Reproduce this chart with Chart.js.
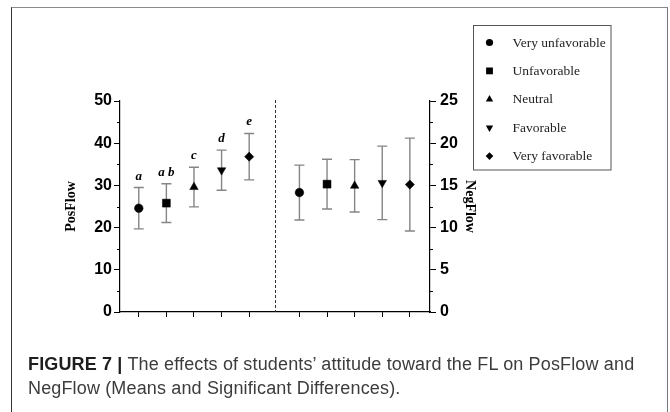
<!DOCTYPE html>
<html>
<head>
<meta charset="utf-8">
<script src="https://cdn.jsdelivr.net/npm/chart.js@4.4.1/dist/chart.umd.min.js"></script>
<style>
  html, body { margin: 0; padding: 0; background: #fff; }
  body { width: 670px; height: 412px; position: relative; overflow: hidden; }
  #frame {
    position: absolute; left: 11px; top: 7px; width: 657px; height: 430px;
    border-left: 1.5px solid #333; border-top: 1px solid #8a8a8a; border-right: 1px solid #777;
    box-sizing: border-box;
  }
  canvas { position: absolute; left: 0; top: 0; }
  #caption {
    position: absolute; left: 28px; top: 352px; width: 636px;
    font: 18px "Liberation Sans", Arial, sans-serif; letter-spacing: 0.15px;
    line-height: 24px; color: #3c3c3c; white-space: nowrap;
  }
  #caption b { color: #1e1e1e; }
</style>
</head>
<body>
<div id="frame"></div>
<canvas id="c" width="670" height="412"></canvas>
<div id="caption"><b>FIGURE 7 |</b> The effects of students’ attitude toward the FL on PosFlow and<br>NegFlow (Means and Significant Differences).</div>
<script>
// Attitude groups and their flow scores (means with error bars)
const categories  = ['Very unfavorable', 'Unfavorable', 'Neutral', 'Favorable', 'Very favorable'];
const posFlowMean = [24.6, 25.8, 29.6, 33.6, 36.8];
const posFlowErr  = [4.9, 4.6, 4.7, 4.75, 5.5];
const negFlowMean = [14.15, 15.15, 14.95, 15.3, 15.1];
const negFlowErr  = [3.25, 2.95, 3.1, 4.35, 5.5];
const sigLetters  = ['a', 'a b', 'c', 'd', 'e'];
const posTicks    = [0, 10, 20, 30, 40, 50];
const negTicks    = [0, 5, 10, 15, 20, 25];
const posMinor    = [5, 15, 25, 35, 45];
const negMinor    = [2.5, 7.5, 12.5, 17.5, 22.5];

// Horizontal layout of the two groups on a linear x scale
const X_MIN = -0.68, X_MAX = 10.55;
const NEG_OFFSET = 5.82;   // where the NegFlow group starts
const DIVIDER = 4.93;      // dashed separator between the groups
const posX = categories.map((_, i) => i);
const negX = categories.map((_, i) => i + NEG_OFFSET);

// Marker appearance per attitude group
const markerStyle    = ['circle', 'rect', 'triangle', 'triangle', 'rectRot'];
const markerRotation = [0, 0, 0, 180, 0];
const markerRadius   = [4.3, 5.6, 4.9, 4.9, 4.6];
const legendRadius   = [3.6, 4.8, 4.2, 4.2, 3.8];

const posData = posFlowMean.map((v, i) => ({ x: posX[i], y: v, err: posFlowErr[i], sig: sigLetters[i] }));
const negData = negFlowMean.map((v, i) => ({ x: negX[i], y: v, err: negFlowErr[i] }));

const BAR_COLOR = '#858585';

const errorBars = {
  id: 'errorBars',
  beforeDatasetsDraw(chart) {
    const { ctx, scales } = chart;
    const xs = scales.x;
    // dashed separator
    ctx.save();
    ctx.strokeStyle = '#333';
    ctx.lineWidth = 1;
    ctx.setLineDash([3, 2]);
    const dx = Math.round(xs.getPixelForValue(DIVIDER)) + 0.5;
    ctx.beginPath();
    ctx.moveTo(dx, scales.y.top - 1);
    ctx.lineTo(dx, scales.y.bottom);
    ctx.stroke();
    ctx.restore();

    chart.data.datasets.forEach(ds => {
      const ys = scales[ds.yAxisID];
      ctx.save();
      ctx.strokeStyle = BAR_COLOR;
      ctx.lineWidth = 1.4;
      ds.data.forEach(p => {
        const px = xs.getPixelForValue(p.x);
        const top = ys.getPixelForValue(p.y + p.err);
        const bot = ys.getPixelForValue(p.y - p.err);
        ctx.beginPath();
        ctx.moveTo(px, top); ctx.lineTo(px, bot);
        ctx.moveTo(px - 5, top); ctx.lineTo(px + 5, top);
        ctx.moveTo(px - 5, bot); ctx.lineTo(px + 5, bot);
        ctx.stroke();
      });
      ctx.restore();
    });
  },
  afterDatasetsDraw(chart) {
    const { ctx, scales } = chart;
    const ds = chart.data.datasets[0];
    ctx.save();
    ctx.fillStyle = '#000';
    ctx.font = 'italic bold 13px "Liberation Serif", "Times New Roman", serif';
    ctx.textAlign = 'center';
    ctx.textBaseline = 'alphabetic';
    ds.data.forEach(p => {
      const px = scales.x.getPixelForValue(p.x);
      const top = scales.y.getPixelForValue(p.y + p.err);
      ctx.fillText(p.sig, px, top - 8);
    });
    ctx.restore();
  },
  afterDraw(chart) {
    const { ctx, scales } = chart;
    // minor ticks
    ctx.save();
    ctx.strokeStyle = '#000';
    ctx.lineWidth = 1;
    posMinor.forEach(v => {
      const y = Math.round(scales.y.getPixelForValue(v)) + 0.5;
      ctx.beginPath(); ctx.moveTo(scales.y.right - 3, y); ctx.lineTo(scales.y.right, y); ctx.stroke();
    });
    negMinor.forEach(v => {
      const y = Math.round(scales.y2.getPixelForValue(v)) + 0.5;
      ctx.beginPath(); ctx.moveTo(scales.y2.left, y); ctx.lineTo(scales.y2.left + 3, y); ctx.stroke();
    });
    ctx.restore();

    // legend box
    ctx.save();
    ctx.strokeStyle = '#555';
    ctx.lineWidth = 1;
    ctx.strokeRect(473.5, 25.5, 137.5, 144.5);
    ctx.font = '13.5px "Liberation Serif", "Times New Roman", serif';
    ctx.textBaseline = 'middle';
    ctx.textAlign = 'left';
    categories.forEach((name, i) => {
      const y = 42.5 + i * 28.4;
      ctx.fillStyle = '#000';
      Chart.helpers.drawPoint(ctx, {
        pointStyle: markerStyle[i], rotation: markerRotation[i],
        radius: legendRadius[i], borderWidth: 0
      }, 489.5, y);
      ctx.fillStyle = '#222';
      ctx.fillText(name, 512.5, y + 0.5);
    });
    ctx.restore();
  }
};

const tickFont = { family: '"Liberation Sans", Arial, sans-serif', size: 16, weight: 'bold' };
const titleFont = { family: '"Liberation Serif", "Times New Roman", serif', size: 14, weight: 'bold' };

new Chart(document.getElementById('c'), {
  type: 'scatter',
  data: {
    datasets: [
      {
        label: 'PosFlow', data: posData, yAxisID: 'y',
        pointStyle: markerStyle, pointRotation: markerRotation, pointRadius: markerRadius,
        pointHoverRadius: markerRadius,
        backgroundColor: '#000', borderColor: '#000', pointBorderWidth: 0.5, showLine: false
      },
      {
        label: 'NegFlow', data: negData, yAxisID: 'y2',
        pointStyle: markerStyle, pointRotation: markerRotation, pointRadius: markerRadius,
        pointHoverRadius: markerRadius,
        backgroundColor: '#000', borderColor: '#000', pointBorderWidth: 0.5, showLine: false
      }
    ]
  },
  options: {
    responsive: false,
    animation: false,
    events: [],
    layout: { padding: { top: 101, left: 0, right: 0, bottom: 0 } },
    plugins: { legend: { display: false }, tooltip: { enabled: false } },
    scales: {
      x: {
        type: 'linear', min: X_MIN, max: X_MAX,
        afterBuildTicks: s => { s.ticks = posX.concat(negX).map(v => ({ value: v })); },
        ticks: { display: false },
        grid: { drawOnChartArea: false, drawTicks: true, tickLength: 5, color: '#000', lineWidth: 1 },
        border: { display: true, color: '#000', width: 1.2 },
        afterFit: s => { s.height = 100; }
      },
      y: {
        type: 'linear', position: 'left', min: 0, max: 50,
        afterBuildTicks: s => { s.ticks = posTicks.map(v => ({ value: v })); },
        ticks: { font: tickFont, color: '#000', padding: 2 },
        grid: { drawOnChartArea: false, tickLength: 6, color: '#000', lineWidth: 1 },
        border: { display: true, color: '#000', width: 1.2 },
        title: { display: true, text: 'PosFlow', font: titleFont, color: '#000', padding: { top: 63, bottom: 0 } },
        afterFit: s => { s.width = 120; }
      },
      y2: {
        type: 'linear', position: 'right', min: 0, max: 25,
        afterBuildTicks: s => { s.ticks = negTicks.map(v => ({ value: v })); },
        ticks: { font: tickFont, color: '#000', padding: 4 },
        grid: { drawOnChartArea: false, tickLength: 6, color: '#000', lineWidth: 1 },
        border: { display: true, color: '#000', width: 1.2 },
        title: { display: true, text: 'NegFlow', font: titleFont, color: '#000', padding: { top: 192, bottom: 0 } },
        afterFit: s => { s.width = 240; }
      }
    }
  },
  plugins: [errorBars]
});
</script>
</body>
</html>
